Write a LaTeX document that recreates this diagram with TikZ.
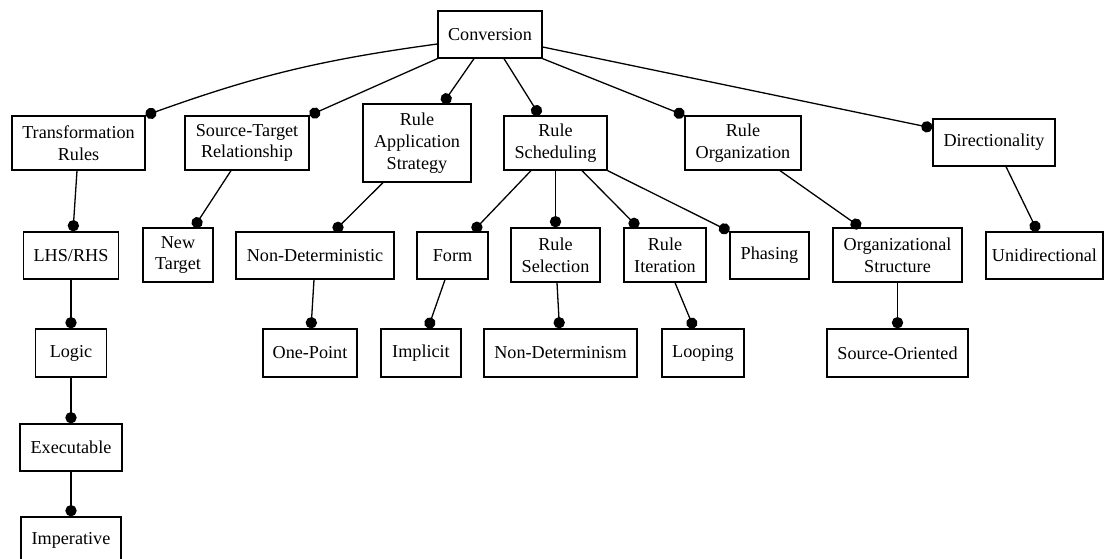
\documentclass[tikz,border=0pt]{standalone}
\usepackage{fontspec}
\setmainfont{Liberation Serif}
\usetikzlibrary{arrows.meta,calc}
\begin{document}
\begin{tikzpicture}[x=0.77pt,y=-0.77pt,
  box/.style={draw, line width=1pt, inner sep=0pt, align=center, font=\fontsize{14}{16.8}\selectfont},
  sz/.style 2 args={minimum width=#1*0.77pt, minimum height=#2*0.77pt},
  link/.style={line width=1pt, -{Circle[length=8.7pt]}}]
\useasboundingbox (0,0) rectangle (1105,559);
% level 0
\node[box, sz={104}{47}] (conv) at (490,34.5) {Conversion};
% level 1
\node[box, sz={133}{54}] (tr)  at (78.5,143) {Transformation\\Rules};
\node[box, sz={124}{54}] (str) at (247,143) {Source-Target\\Relationship};
\node[box, sz={108}{78}] (ras) at (417,143) {Rule\\Application\\Strategy};
\node[box, sz={103}{54}] (rs)  at (555.5,143) {Rule\\Scheduling};
\node[box, sz={116}{54}] (ro)  at (743,143) {Rule\\Organization};
\node[box, sz={122}{47}] (dir) at (994,142.5) {Directionality};
% level 2
\node[box, sz={95}{47}]  (lhs)  at (71,255.5) {LHS/RHS};
\node[box, sz={70}{54}]  (nt)   at (178,255) {New\\Target};
\node[box, sz={158}{47}] (nd)   at (315,255.5) {Non-Deterministic};
\node[box, sz={71}{47}]  (form) at (452.5,255.5) {Form};
\node[box, sz={89}{54}]  (rsel) at (555.5,255) {Rule\\Selection};
\node[box, sz={82}{54}]  (rit)  at (665,255) {Rule\\Iteration};
\node[box, sz={79}{47}]  (pha)  at (769.5,255.5) {Phasing};
\node[box, sz={129}{54}] (os)   at (897.5,255) {Organizational\\Structure};
\node[box, sz={117}{47}] (uni)  at (1044.5,255.5) {Unidirectional};
% level 3
\node[box, sz={71}{48}]  (logic) at (71,353) {Logic};
\node[box, sz={94}{48}]  (op)    at (310,353) {One-Point};
\node[box, sz={80}{48}]  (impl)  at (421,353) {Implicit};
\node[box, sz={153}{48}] (ndm)   at (560.5,353) {Non-Determinism};
\node[box, sz={82}{48}]  (loop)  at (703,353) {Looping};
\node[box, sz={141}{48}] (so)    at (897.5,353) {Source-Oriented};
% level 4, 5
\node[box, sz={102}{47}] (exe) at (71,447.5) {Executable};
\node[box, sz={100}{47}] (imp) at (71,540.5) {Imperative};
% edges
\draw[link] ($(conv.west)+(0,9.5)$) to[bend right=6] (tr.north east);
\draw[link] (conv.south west) -- (str.north east);
\draw[link] ($(conv.south)+(-16,0)$) -- ($(ras.north)+(26,0)$);
\draw[link] ($(conv.south)+(14,0)$) -- ($(rs.north)+(-16,0)$);
\draw[link] (conv.south east) -- (ro.north west);
\draw[link] ($(conv.east)+(0,12.5)$) -- ($(dir.west)+(0,-14.5)$);
\draw[link] ($(tr.south)+(-1.5,0)$) -- ($(lhs.north)+(2,0)$);
\draw[link] ($(str.south)+(-16,0)$) -- ($(nt.north)+(16,0)$);
\draw[link] ($(ras.south)+(-34,0)$) -- ($(nd.north)+(19,0)$);
\draw[link] ($(nd.south)+(-1,0)$) -- ($(op.north)+(1,0)$);
\draw[link] (lhs) -- (logic);
\draw[link] (logic) -- (exe);
\draw[link] (exe) -- (imp);
\draw[link] ($(rs.south)+(-24.5,0)$) -- ($(form.north)+(20.5,0)$);
\draw[link] (rs.south) -- (rsel.north);
\draw[link] ($(rs.south)+(26.5,0)$) -- ($(rit.north)+(-27,0)$);
\draw[link] (rs.south east) -- (pha.north west);
\draw[link] ($(form.south)+(-7.5,0)$) -- ($(impl.north)+(7,0)$);
\draw[link] ($(rsel.south)+(1.5,0)$) -- ($(ndm.north)+(-1,0)$);
\draw[link] ($(rit.south)+(10,0)$) -- ($(loop.north)+(-9,0)$);
\draw[link] ($(ro.south)+(37,0)$) -- ($(os.north)+(-37,0)$);
\draw[link] (os) -- (so);
\draw[link] ($(dir.south)+(12,0)$) -- ($(uni.north)+(-7,0)$);
\end{tikzpicture}
\end{document}
